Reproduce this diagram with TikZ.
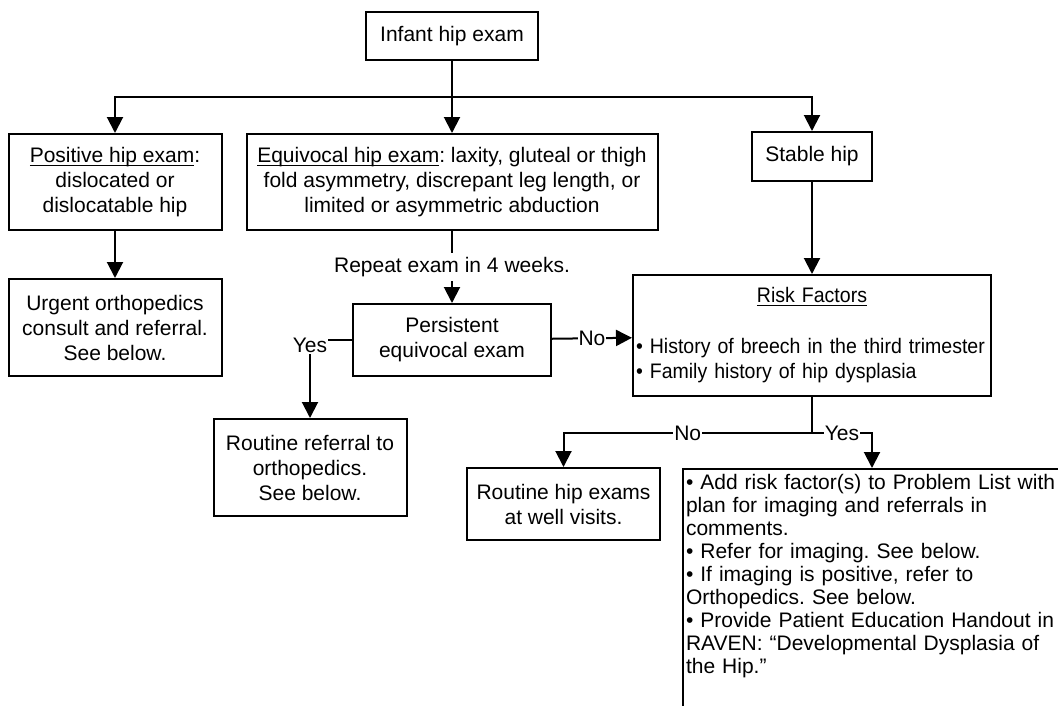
\documentclass[tikz,border=0pt]{standalone}
\usepackage{fontspec}
\setmainfont{Liberation Sans}
\newfontfamily\narrowfont[FakeStretch=0.93]{Liberation Sans}
\usetikzlibrary{arrows.meta,positioning}
\newcommand{\undl}[1]{\leavevmode\setbox0\hbox{#1}\rlap{\rule[-3.5pt]{\wd0}{1.4pt}}\box0}
\frenchspacing

\begin{document}
\begin{tikzpicture}[x=1pt, y=-1pt,
      font=\fontsize{21}{25}\selectfont,
      box/.style={draw, line width=2pt, align=center, inner sep=0pt},
      lbl/.style={fill=white, inner xsep=1pt, inner ysep=2pt},
      arr/.style={-{Triangle[width=16pt,length=16pt]}, line width=2pt}
  ]
    \path[use as bounding box, clip] (0,0) rectangle (1058,705);

    \node[box, minimum width=172pt, minimum height=48pt] (root) at (452,36) {Infant hip exam};
    \node[box, below=72pt of root, minimum width=411pt, minimum height=96pt] (equiv)
      {\undl{Equivocal hip exam}: laxity, gluteal or thigh\\ fold asymmetry, discrepant leg length, or\\ limited or asymmetric abduction};
    \node[box, left=23pt of equiv, minimum width=213pt, minimum height=96pt] (pos)
      {\undl{Positive hip exam}:\\ dislocated or\\ dislocatable hip};
    \node[box, minimum width=120pt, minimum height=49pt] (stable) at (812,156.5) {Stable hip};
    \node[box, below=47pt of pos, minimum width=213pt, minimum height=97pt] (urgent)
      {Urgent orthopedics\\ consult and referral.\\ See below.};
    \node[box, below=72pt of equiv, minimum width=198pt, minimum height=72pt] (pers)
      {Persistent\\ equivocal exam};
    \node[box, minimum height=121pt, text width=358pt, align=left,
          font=\narrowfont\fontsize{21}{25.5}\selectfont] (risk) at (812,335.5)
      {\makebox[\linewidth]{\undl{Risk Factors}}\\[25pt]
       \mbox{\hspace*{3pt}• History of breech in the third trimester}\\
       \mbox{\hspace*{3pt}• Family history of hip dysplasia}};
    \node[box, minimum width=193pt, minimum height=97pt] (rout) at (310,467.5)
      {Routine referral to\\ orthopedics.\\ See below.};
    \node[box, minimum width=193pt, minimum height=72pt] (well) at (563.5,504)
      {Routine hip exams\\ at well visits.};
    \node[box, anchor=north west, text width=372pt, inner xsep=3pt, inner ysep=5pt,
          align=left, text depth=235pt, font=\fontsize{21}{23}\selectfont] (add) at (682,468)
      {• Add risk factor(s) to Problem List with\\ plan for imaging and referrals in\\ comments.\\
       • Refer for imaging. See below.\\ • If imaging is positive, refer to\\ Orthopedics. See below.\\
       • Provide Patient Education Handout in\\ RAVEN: “Developmental Dysplasia of\\ the Hip.”};

    % top split
    \path (root.south) ++(0,36) coordinate (fork);
    \draw[arr] (root) -- (equiv);
    \draw[arr] (fork) -| (pos);
    \draw[arr] (fork) -| (stable);
    \draw[arr] (pos) -- (urgent);
    \draw[arr] (equiv) -- node[lbl, inner ysep=4pt]{Repeat exam in 4 weeks.} (pers);
    \draw[arr] (stable) -- (risk);
    \draw[arr] (pers) -- node[lbl]{No} (risk);
    \draw[arr] (pers) -| node[lbl, pos=0.5, yshift=-5pt]{Yes} (rout);

    % risk split
    \path (risk.south) ++(0,36) coordinate (fork2);
    \draw[line width=2pt] (risk) -- (fork2);
    \draw[arr] (fork2) -| node[lbl, pos=0.25]{No} (well);
    \draw[arr] (fork2) -| node[lbl, pos=0.25]{Yes} (add);
  \end{tikzpicture}
\end{document}
